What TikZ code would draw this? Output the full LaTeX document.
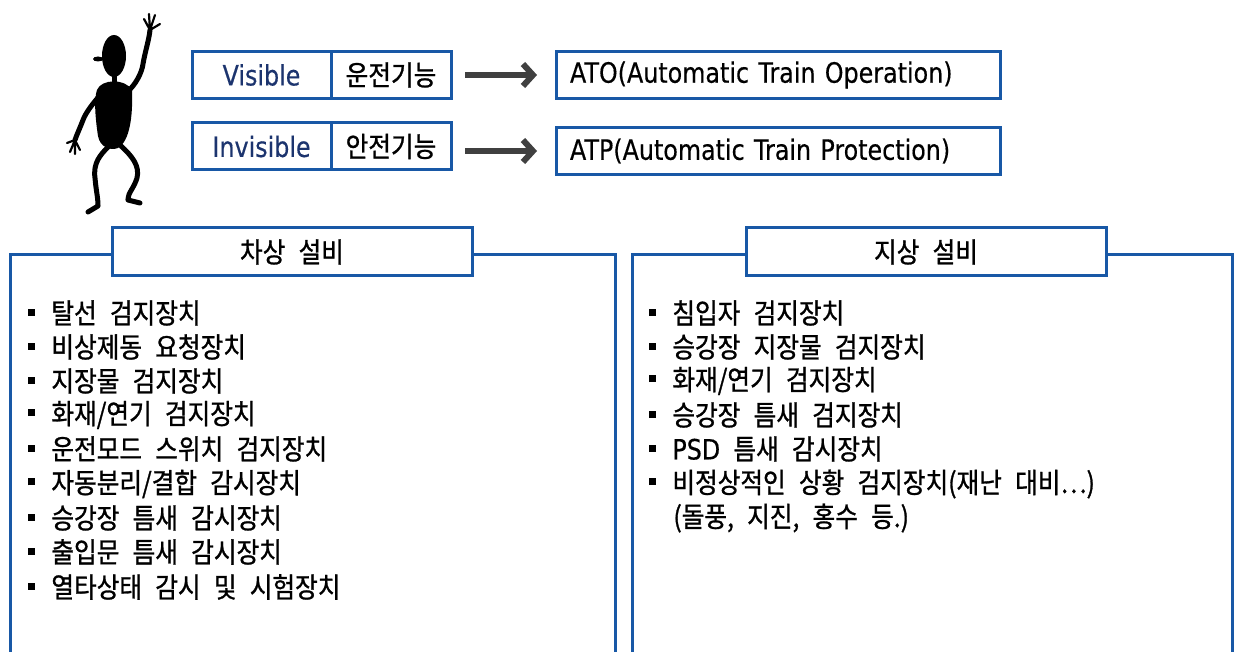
\documentclass[tikz,border=0pt]{standalone}
\usepackage{fontspec}
\setmainfont{Noto Sans CJK KR}[FakeStretch=0.88,FakeBold=1,WordSpace=2.4]
\newfontfamily\latfont{DejaVu Sans}[FakeStretch=0.85,FakeBold=0.4,WordSpace=1.8]
\usetikzlibrary{arrows.meta, positioning}

\definecolor{lineblue}{RGB}{24,88,166}
\definecolor{tagnavy}{RGB}{28,52,110}
\definecolor{arrowgray}{RGB}{64,64,64}

% square bullet in front of each list entry
\newcommand{\bul}{\rule[0.28em]{3.5pt}{3.5pt}\hspace{8pt}}

\begin{document}
\begin{tikzpicture}[
        x=0.5pt, y=-0.5pt,
        txt/.style={font=\fontsize{14}{16}\selectfont},
        lat/.style={font=\latfont\fontsize{14}{16}\selectfont},
        cell/.style={rectangle, draw=lineblue, line width=1.5pt, outer sep=0pt, inner sep=0pt, minimum height=23.5pt, txt},
        tag/.style={cell, minimum width=69.5pt, text=tagnavy, lat},
        func/.style={cell, minimum width=60pt},
        sysbox/.style={cell, text width=208pt, inner xsep=7pt, align=left, lat},
        flow/.style={draw=arrowgray, line width=3pt, -{Straight Barb[length=5pt, width=11pt]}, shorten <=7pt, shorten >=9.5pt},
        panel/.style={draw=lineblue, line width=1.5pt},
        paneltitle/.style={cell, fill=white, minimum width=180pt, minimum height=24pt},
        item/.style={txt, anchor=west, inner sep=0pt},
        limb/.style={line width=2.5pt, line cap=round, line join=round},
        finger/.style={line width=1.1pt, line cap=round}
    ]
        \useasboundingbox (0,0) rectangle (1237,652);

        % waving figure
        \fill (114,56) ellipse [x radius=12, y radius=21];
        \fill (98,59) ellipse [x radius=5, y radius=2.5];
        \draw[limb] (114,76) -- (114,86);
        \fill (97,90) .. controls (101,79) and (125,78) .. (132,90)
            .. controls (133,115) and (130,141) .. (118,148)
            .. controls (110,151) and (100,147) .. (98,136)
            .. controls (95,116) and (94,99) .. (97,90) -- cycle;
        \draw[limb] (126,93) .. controls (136,85) and (142,72) .. (143,64) .. controls (145,52) and (149,40) .. (150,30);
        \draw[finger] (150,30) -- (144,19) (150,30) -- (149,14) (150,30) -- (155,15) (150,30) -- (160,24);
        \draw[limb] (102,93) .. controls (94,102) and (86,112) .. (83,120) .. controls (80,128) and (77,134) .. (75,140);
        \draw[finger] (75,140) -- (67,143) (75,140) -- (70,152) (75,140) -- (75,154) (75,140) -- (80,150);
        \draw[limb] (109,146) .. controls (100,155) and (93,163) .. (95,178) .. controls (96,190) and (98,198) .. (98,205);
        \draw[limb] (98,206) -- (88,212);
        \draw[limb] (121,146) .. controls (132,156) and (140,166) .. (137,178) .. controls (134,188) and (128,193) .. (128,199);
        \draw[limb] (128,200) -- (140,203);

        % visible / invisible functions
        \node[tag] (vis) at (261.5,75) {Visible};
        \node[func, right=0pt of vis] (drive) {운전기능};
        \node[tag] (invis) at (261.5,146.5) {Invisible};
        \node[func, right=0pt of invis] (safe) {안전기능};

        \node[sysbox] (ato) at (778,75) {ATO(Automatic Train Operation)};
        \node[sysbox] (atp) at (778,151) {ATP(Automatic Train Protection)};

        \draw[flow] (drive.east) -- (ato.west);
        \draw[flow] (safe.east |- atp.west) -- (atp.west);

        % on-board equipment
        \draw[panel] (10,652) -- (10,255) -- (615,255) -- (615,652);
        \node[paneltitle] (board) at (292,252) {차상 설비};
        \node[item] (b1) at (28,313) {\bul 탈선 검지장치};
        \node[item] (b2) at (28,347) {\bul 비상제동 요청장치};
        \node[item] (b3) at (28,381) {\bul 지장물 검지장치};
        \node[item] (b4) at (28,415) {\bul 화재/연기 검지장치};
        \node[item] (b5) at (28,449) {\bul 운전모드 스위치 검지장치};
        \node[item] (b6) at (28,484) {\bul 자동분리/결합 감시장치};
        \node[item] (b7) at (28,518) {\bul 승강장 틈새 감시장치};
        \node[item] (b8) at (28,552) {\bul 출입문 틈새 감시장치};
        \node[item] (b9) at (28,587) {\bul 열타상태 감시 및 시험장치};

        % wayside equipment
        \draw[panel] (632,652) -- (632,255) -- (1232,255) -- (1232,652);
        \node[paneltitle] (ground) at (926,252) {지상 설비};
        \node[item] (g1) at (649,313) {\bul 침입자 검지장치};
        \node[item] (g2) at (649,347) {\bul 승강장 지장물 검지장치};
        \node[item] (g3) at (649,381) {\bul 화재/연기 검지장치};
        \node[item] (g4) at (649,415) {\bul 승강장 틈새 검지장치};
        \node[item] (g5) at (649,449) {\bul {\latfont PSD} 틈새 감시장치};
        \node[item] (g6) at (649,484) {\bul 비정상적인 상황 검지장치(재난 대비…)};
        \node[item] (g7) at (673,518) {(돌풍, 지진, 홍수 등.)};
    \end{tikzpicture}
\end{document}
